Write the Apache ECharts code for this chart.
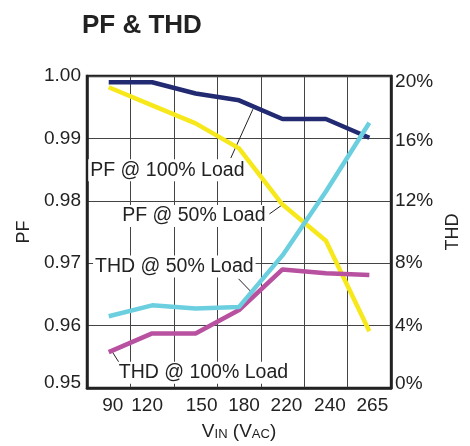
<!DOCTYPE html>
<html>
<head>
<meta charset="utf-8">
<script src="https://cdn.jsdelivr.net/npm/echarts@6/dist/echarts.min.js"></script>
<style>
  html, body { margin: 0; padding: 0; background: #fff; }
  #chart { width: 470px; height: 446px; }
</style>
</head>
<body>
<div id="chart"></div>
<script>
// input voltage categories (V AC)
const categories = ["90", "120", "150", "180", "220", "240", "265"];

// power factor, left axis
const pf100 = [0.999, 0.999, 0.9972, 0.9961, 0.9931, 0.9931, 0.9901];
const pf50 = [0.9982, 0.9953, 0.9924, 0.9884, 0.9794, 0.9736, 0.9591];

// total harmonic distortion in %, right axis
const thd50 = [4.6, 5.3, 5.1, 5.2, 8.5, 12.6, 17.0];
const thd100 = [2.3, 3.5, 3.5, 5.0, 7.6, 7.35, 7.25];

const FONT = "'Liberation Sans', Arial, Helvetica, sans-serif";
const INK = "#222";
const LBL = 19;

const chart = echarts.init(document.getElementById("chart"));

const lineSeries = (name, data, color, yAxisIndex) => ({
  name,
  type: "line",
  data,
  yAxisIndex,
  symbol: "none",
  lineStyle: { color, width: 4.5 },
  itemStyle: { color },
});

// end labels sit a little inside the frame, like the original
const tok = { fontFamily: FONT, fontSize: LBL, color: INK };
const shiftRich = {
  dn: { ...tok, padding: [12, 0, 0, 0] },
  dn2: { ...tok, padding: [4, 0, 0, 0] },
  up: { ...tok, padding: [0, 0, 8, 0] },
  up2: { ...tok, padding: [0, 0, 10, 0] },
};

// x labels in the original are not quite centred on their bands
const xNudge = [4, -5, 6, 5, 4, 4, 3];
const xRich = {};
xNudge.forEach((d, i) => {
  xRich["x" + i] = { ...tok, padding: d > 0 ? [0, 0, 0, 2 * d] : [0, -2 * d, 0, 0] };
});

chart.setOption({
  animation: false,
  backgroundColor: "#fff",
  title: {
    text: "PF & THD",
    left: 77,
    top: 8,
    textStyle: { fontFamily: FONT, fontSize: 26, fontWeight: "bold", color: INK },
  },
  grid: {
    left: 87,
    right: 72,
    top: 76,
    bottom: 58,
    show: true,
    borderColor: INK,
    borderWidth: 2.5,
    backgroundColor: "transparent",
  },
  xAxis: {
    type: "category",
    data: categories,
    boundaryGap: true,
    axisLine: { lineStyle: { color: INK, width: 2.5 } },
    axisTick: { show: false },
    splitLine: { show: true, interval: 0, lineStyle: { color: "#444", width: 1 } },
    axisLabel: {
      interval: 0,
      margin: 8,
      fontFamily: FONT,
      fontSize: LBL,
      color: INK,
      formatter: (v, i) => "{x" + i + "|" + v + "}",
      rich: xRich,
    },
    name: "{v|V}{s|IN}{v| (V}{s|AC}{v|)}",
    nameLocation: "middle",
    nameGap: 34,
    nameTextStyle: {
      fontFamily: FONT,
      color: INK,
      rich: {
        v: { fontFamily: FONT, fontSize: 19, lineHeight: 19, verticalAlign: "top", color: INK },
        s: { fontFamily: FONT, fontSize: 13, lineHeight: 13, verticalAlign: "bottom", padding: [8, 0, 0, 0], color: INK },
      },
    },
  },
  yAxis: [
    {
      type: "value",
      min: 0.95,
      max: 1.0,
      interval: 0.01,
      axisLine: { show: true, lineStyle: { color: INK, width: 2.5 } },
      axisTick: { show: false },
      splitLine: { show: true, lineStyle: { color: "#444", width: 1 } },
      axisLabel: {
        margin: 6,
        fontFamily: FONT,
        fontSize: LBL,
        color: INK,
        formatter: (v) => (v < 0.9505 ? "{up2|" + v.toFixed(2) + "}" : v.toFixed(2)),
        rich: shiftRich,
      },
      name: "PF",
      nameLocation: "middle",
      nameRotate: 90,
      nameGap: 52,
      nameTextStyle: { fontFamily: FONT, fontSize: 18, color: INK },
    },
    {
      type: "value",
      min: 0,
      max: 20,
      interval: 4,
      position: "right",
      axisLine: { show: true, lineStyle: { color: INK, width: 2.5 } },
      axisTick: { show: false },
      splitLine: { show: false },
      axisLabel: {
        margin: 4,
        fontFamily: FONT,
        fontSize: LBL,
        color: INK,
        formatter: (v) => {
          if (v === 20) return "{dn|20%}";
          if (v === 16) return "{dn2|16%}";
          if (v === 0) return "{up|0%}";
          return v + "%";
        },
        rich: shiftRich,
      },
      name: "THD",
      nameLocation: "middle",
      nameRotate: 90,
      nameGap: 44,
      nameTextStyle: { fontFamily: FONT, fontSize: 18, color: INK },
    },
  ],
  series: [
    lineSeries("PF @ 50% Load", pf50, "#f7e81c", 0),
    lineSeries("PF @ 100% Load", pf100, "#222a72", 0),
    lineSeries("THD @ 100% Load", thd100, "#b8519f", 1),
    lineSeries("THD @ 50% Load", thd50, "#6ccfe0", 1),
  ],
});

// place callouts in data space (category index may be fractional, PF value)
function at(i, v) {
  const i0 = Math.min(Math.floor(i), categories.length - 2);
  const t = i - i0;
  const a = chart.convertToPixel({ xAxisIndex: 0, yAxisIndex: 0 }, [i0, v]);
  const b = chart.convertToPixel({ xAxisIndex: 0, yAxisIndex: 0 }, [i0 + 1, v]);
  return [a[0] + t * (b[0] - a[0]), a[1]];
}

const callouts = [
  { text: "PF @ 100% Load", pos: [1.35, 0.9849], from: [2.81, 0.98685], to: [3.32, 0.99468] },
  { text: "PF @ 50% Load", pos: [1.96, 0.97757], from: [3.70, 0.97789], to: [3.99, 0.97933] },
  { text: "THD @ 50% Load", pos: [1.51, 0.96946], from: [2.99, 0.96749], to: [3.30, 0.96525] },
  { text: "THD @ 100% Load", pos: [2.18, 0.95245], from: [0.24, 0.95406], to: [0.08, 0.95582] },
];

const graphics = [];
callouts.forEach((c) => {
  const p = at(c.pos[0], c.pos[1]);
  const f = at(c.from[0], c.from[1]);
  const t = at(c.to[0], c.to[1]);
  graphics.push({
    type: "line",
    z: 1,
    shape: { x1: f[0], y1: f[1], x2: t[0], y2: t[1] },
    style: { stroke: INK, lineWidth: 1 },
  });
  graphics.push({
    type: "text",
    z: 1,
    x: p[0],
    y: p[1],
    style: {
      text: c.text,
      font: "19.5px " + FONT,
      fill: INK,
      align: "center",
      verticalAlign: "middle",
      backgroundColor: "#fff",
      padding: [1, 2],
    },
  });
});
chart.setOption({ graphic: graphics });
</script>
</body>
</html>
